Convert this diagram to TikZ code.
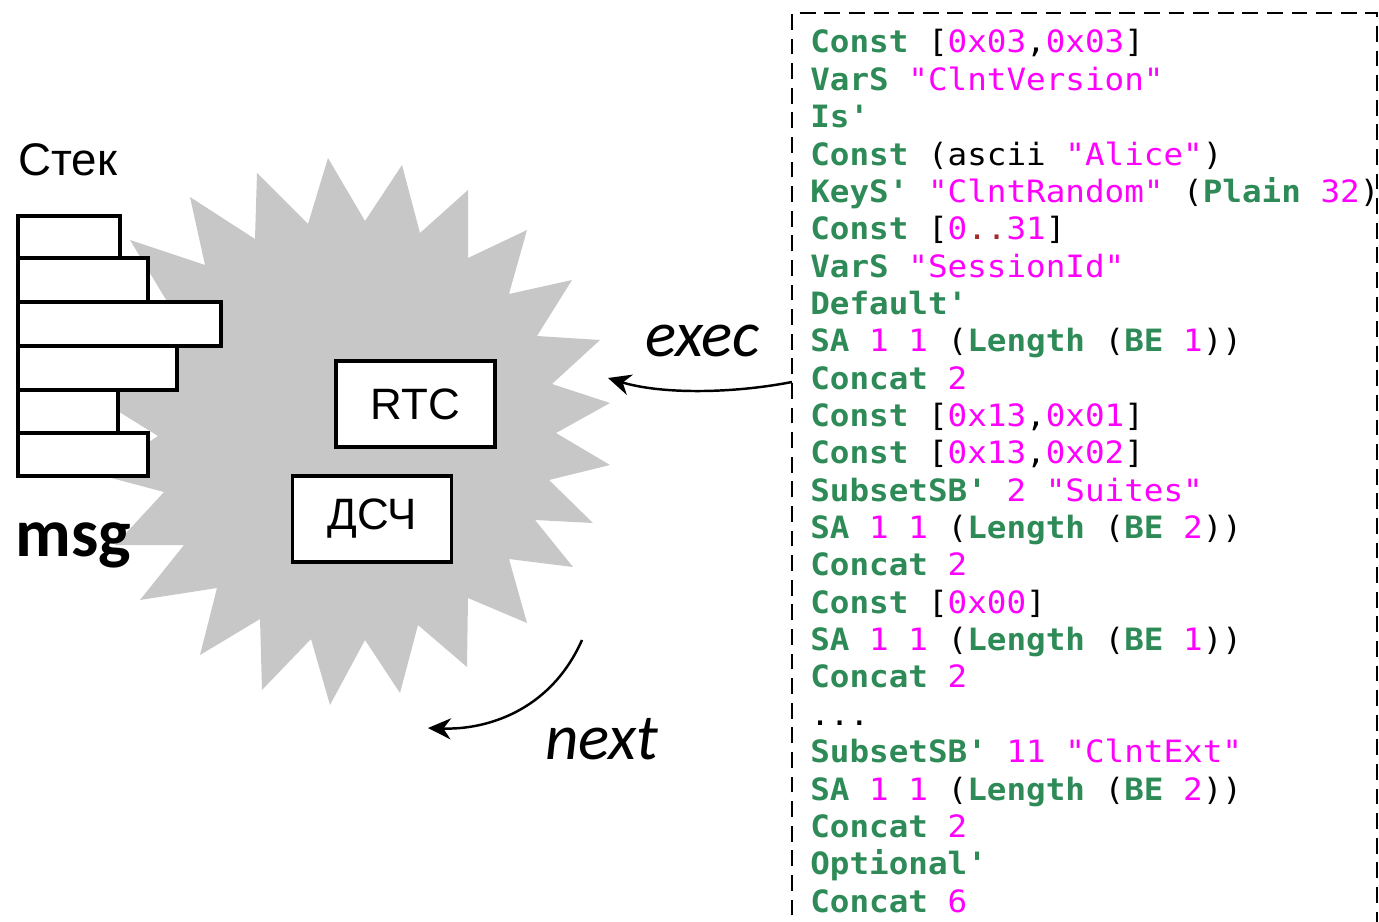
\documentclass[tikz,border=0pt]{standalone}
\usepackage{fontspec}
\setmainfont{Liberation Sans}
\newfontfamily\codefont[FakeStretch=1.06,Ligatures=TeXOff]{DejaVu Sans Mono}
\newfontfamily\calfont{Carlito}
\usetikzlibrary{arrows.meta}
\definecolor{burst}{gray}{0.78}
\definecolor{kwgreen}{RGB}{46,139,87}
\definecolor{litpink}{RGB}{255,0,255}
\definecolor{dotbrown}{RGB}{165,42,42}
\newcommand{\ckw}[1]{\textcolor{kwgreen}{\bfseries #1}}
\newcommand{\clit}[1]{\textcolor{litpink}{#1}}

\begin{document}
\begin{tikzpicture}[x=0.02cm, y=-0.02cm,
  box/.style={draw, fill=white, line width=1.9pt, minimum width=3.18cm, minimum height=1.72cm, inner sep=0pt, font=\fontsize{25}{30}\selectfont},
  plaintext/.style={anchor=base west, inner sep=0pt},
  codeline/.style={anchor=base west, inner sep=0pt, font=\codefont\fontsize{17.5}{21}\selectfont},
  curvearrow/.style={line width=1.4pt, -{Stealth[length=13pt, width=12pt]}}]
\useasboundingbox (0,0) rectangle (1379,922);
\clip (0,0) rectangle (1379,922);

% starburst
\fill[burst] (328,158) -- (365,221) -- (402,165) -- (420,233) -- (468,190) -- (468,258)
  -- (527,230) -- (509,294) -- (572,280) -- (537,336) -- (600,340) -- (552,384)
  -- (610,403) -- (556,433) -- (610,465) -- (549,480) -- (593,523) -- (535,520)
  -- (573,567) -- (509,559) -- (527,623) -- (468,598) -- (467,667) -- (418,625)
  -- (400,693) -- (365,640) -- (330,705) -- (311,639) -- (262,690) -- (260,619)
  -- (200,655) -- (217,588) -- (140,600) -- (184,545) -- (115,545) -- (164,492)
  -- (100,475) -- (158,436) -- (100,400) -- (162,375) -- (110,320) -- (174,313)
  -- (130,240) -- (205,265) -- (190,197) -- (255,239) -- (257,173) -- (308,224) -- cycle;

% stack
\foreach \ya/\yb/\xr in {216/258/120, 258/302/148, 302/346/221, 346/390/177, 390/433/118, 433/476/148}{
\draw[line width=2pt, fill=white] (18,\ya) rectangle (\xr,\yb);
}
\node[plaintext, font=\fontsize{26}{30}\selectfont] (stack) at (18,176) {Стек};
\node[plaintext, font=\calfont\bfseries\fontsize{39}{44}\selectfont] (msg) at (15,556) {msg};

\node[box] (rtc) at (415.5,404) {RTC};
\node[box] (dsch) at (372,519) {ДСЧ};

% code
\draw[line width=1.5pt, dash pattern=on 9pt off 5pt] (792,940) -- (792,13) -- (1377,13) -- (1377,940);
\foreach \codetext [count=\i] in {
  {\ckw{Const} [\clit{0x03},\clit{0x03}]},
  {\ckw{VarS} \clit{"ClntVersion"}},
  {\ckw{Is'}},
  {\ckw{Const} (ascii \clit{"Alice"})},
  {\ckw{KeyS'} \clit{"ClntRandom"} (\ckw{Plain} \clit{32})},
  {\ckw{Const} [\clit{0}\textcolor{dotbrown}{..}\clit{31}]},
  {\ckw{VarS} \clit{"SessionId"}},
  {\ckw{Default'}},
  {\ckw{SA} \clit{1 1} (\ckw{Length} (\ckw{BE} \clit{1}))},
  {\ckw{Concat} \clit{2}},
  {\ckw{Const} [\clit{0x13},\clit{0x01}]},
  {\ckw{Const} [\clit{0x13},\clit{0x02}]},
  {\ckw{SubsetSB'} \clit{2 "Suites"}},
  {\ckw{SA} \clit{1 1} (\ckw{Length} (\ckw{BE} \clit{2}))},
  {\ckw{Concat} \clit{2}},
  {\ckw{Const} [\clit{0x00}]},
  {\ckw{SA} \clit{1 1} (\ckw{Length} (\ckw{BE} \clit{1}))},
  {\ckw{Concat} \clit{2}},
  {.{}.{}.},
  {\ckw{SubsetSB'} \clit{11 "ClntExt"}},
  {\ckw{SA} \clit{1 1} (\ckw{Length} (\ckw{BE} \clit{2}))},
  {\ckw{Concat} \clit{2}},
  {\ckw{Optional'}},
  {\ckw{Concat} \clit{6}}}{
\node[codeline] (line\i) at (810,{53+37.35*(\i-1)}) {\codetext};
}

% arrows
\node[plaintext, font=\calfont\itshape\fontsize{37}{42}\selectfont] (exec) at (645,356) {exec};
\node[plaintext, font=\calfont\itshape\fontsize{37}{42}\selectfont] (next) at (545,759) {next};
\coordinate (execfrom) at (792,382);
\coordinate (execto) at (608,378);
\coordinate (nextfrom) at (582,640);
\coordinate (nextto) at (428,728);
\draw[curvearrow] (execfrom) .. controls (730,394) and (660,394) .. (execto);
\draw[curvearrow] (nextfrom) .. controls (550,712) and (485,730) .. (nextto);
\end{tikzpicture}
\end{document}
